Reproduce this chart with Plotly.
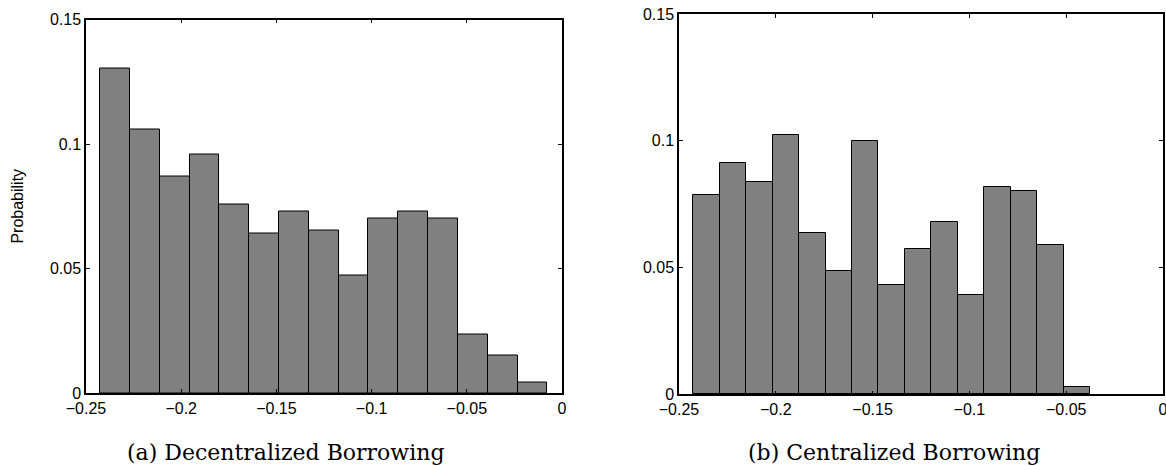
import plotly.graph_objects as go

# Histogram (a): Decentralized Borrowing
dec_bin_start = -0.2426
dec_bin_width = 0.01566
dec_prob = [0.1305, 0.1059, 0.0870, 0.0959, 0.0759, 0.0639, 0.0728, 0.0651,
            0.0470, 0.0699, 0.0730, 0.0699, 0.0233, 0.0151, 0.0043]

# Histogram (b): Centralized Borrowing
cen_bin_start = -0.2426
cen_bin_width = 0.01366
cen_prob = [0.0787, 0.0912, 0.0839, 0.1021, 0.0638, 0.0488, 0.0999, 0.0430,
            0.0572, 0.0681, 0.0391, 0.0817, 0.0800, 0.0589, 0.0028]

x_ticks = [-0.25, -0.2, -0.15, -0.1, -0.05, 0]
x_tick_text = ["\u22120.25", "\u22120.2", "\u22120.15", "\u22120.1", "\u22120.05", "0"]
y_ticks = [0, 0.05, 0.1, 0.15]
y_tick_text = ["0", "0.05", "0.1", "0.15"]
captions = ["(a) Decentralized Borrowing", "(b) Centralized Borrowing"]
y_label = "Probability"

def centers(start, width, n):
    return [start + width * (i + 0.5) for i in range(n)]

W, H = 1166, 466
fig = go.Figure()

bar_style = dict(marker=dict(color="#808080", line=dict(color="#000000", width=1)),
                 showlegend=False, hoverinfo="x+y")

fig.add_trace(go.Bar(x=centers(dec_bin_start, dec_bin_width, len(dec_prob)), y=dec_prob,
                     width=dec_bin_width, xaxis="x", yaxis="y", **bar_style))
fig.add_trace(go.Bar(x=centers(cen_bin_start, cen_bin_width, len(cen_prob)), y=cen_prob,
                     width=cen_bin_width, xaxis="x2", yaxis="y2", **bar_style))

font = dict(family="Liberation Sans, Arial, sans-serif", size=16, color="#000000")
cap_font = dict(family="DejaVu Serif, Liberation Serif, serif", size=22, color="#000000")

def xax(domain, anchor):
    return dict(domain=domain, anchor=anchor, range=[-0.25, 0], tickmode="array",
                tickvals=x_ticks, ticktext=x_tick_text, ticks="inside", ticklen=4,
                tickcolor="#000000", showline=True, linecolor="#000000", linewidth=1.5,
                mirror="ticks", showgrid=False, zeroline=False, tickfont=font,
                fixedrange=True, automargin=False, ticklabeloverflow="allow")

def yax(domain, anchor):
    return dict(domain=domain, anchor=anchor, range=[0, 0.15], tickmode="array",
                tickvals=y_ticks, ticktext=y_tick_text, ticks="inside", ticklen=4,
                tickcolor="#000000", showline=True, linecolor="#000000", linewidth=1.5,
                mirror="ticks", showgrid=False, zeroline=False, tickfont=font,
                fixedrange=True, automargin=False, ticklabeloverflow="allow")

fig.update_layout(
    width=W, height=H,
    margin=dict(l=0, r=0, t=0, b=0, autoexpand=False),
    paper_bgcolor="#ffffff", plot_bgcolor="#ffffff",
    bargap=0,
    xaxis=xax([86 / W, 562 / W], "y"),
    yaxis=dict(yax([(H - 393) / H, (H - 19.5) / H], "x"),
               title=dict(text=y_label, font=dict(font, size=16), standoff=22)),
    xaxis2=xax([679 / W, 1163 / W], "y2"),
    yaxis2=yax([(H - 394.3) / H, (H - 14) / H], "x2"),
    annotations=[
        dict(text=captions[0], x=285.5 / W, y=(H - 452) / H, xref="paper", yref="paper",
             xanchor="center", yanchor="middle", showarrow=False, font=cap_font),
        dict(text=captions[1], x=894 / W, y=(H - 452) / H, xref="paper", yref="paper",
             xanchor="center", yanchor="middle", showarrow=False, font=cap_font),
    ],
)

fig.write_html("out.html")
